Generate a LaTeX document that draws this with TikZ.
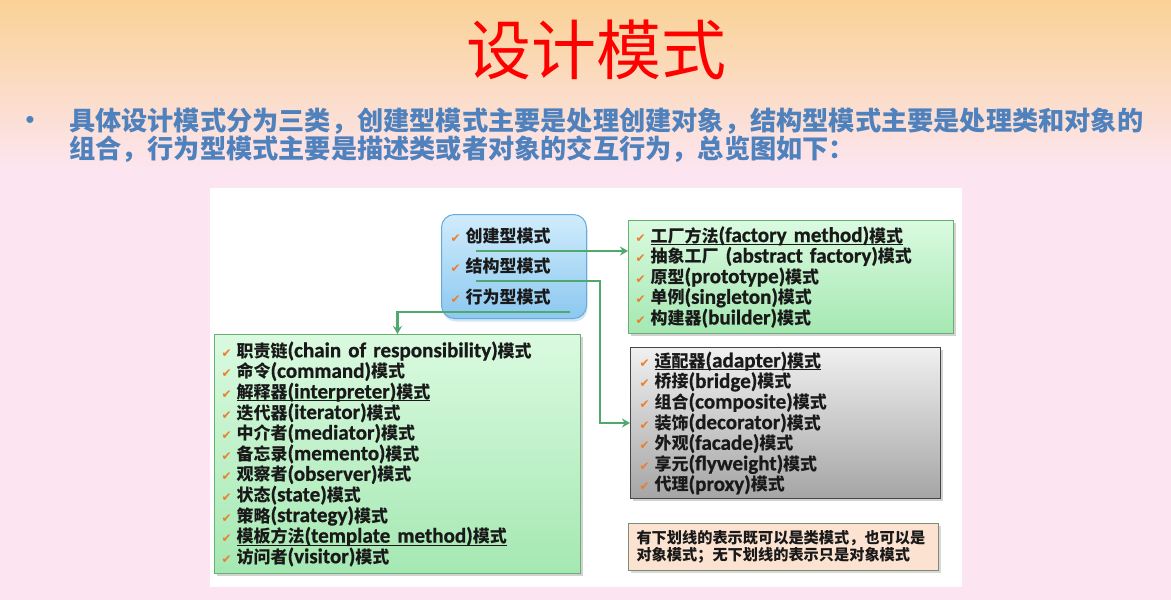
\documentclass[tikz,border=0pt]{standalone}
\usepackage{fontspec}
\setmainfont{Carlito}[Scale=1.24, BoldFont={Carlito Bold}, BoldFeatures={FakeBold=0.8}]
\newfontfamily\cjk{Noto Sans CJK SC}
\newfontfamily\dv{DejaVu Sans}
\usetikzlibrary{arrows.meta,shadows,calc}
\definecolor{bgtop}{RGB}{250,210,150}
\definecolor{bgpink}{RGB}{252,229,240}
\definecolor{titlered}{RGB}{255,0,0}
\definecolor{subblue}{RGB}{79,129,189}
\definecolor{chk}{RGB}{236,125,45}
\definecolor{lnk}{RGB}{80,168,108}
\definecolor{catA}{RGB}{208,236,252}
\definecolor{catB}{RGB}{140,200,240}
\definecolor{catD}{RGB}{105,170,220}
\definecolor{grA}{RGB}{218,250,224}
\definecolor{grB}{RGB}{165,232,178}
\definecolor{grD}{RGB}{105,175,115}
\definecolor{gyA}{RGB}{240,240,240}
\definecolor{gyB}{RGB}{165,165,165}
\definecolor{gyD}{RGB}{70,70,70}
\definecolor{ntF}{RGB}{252,226,208}
\definecolor{ntD}{RGB}{125,140,115}
\definecolor{txt}{RGB}{25,25,25}
\newcommand\ck{{\dv\fontsize{12}{12}\selectfont\color{chk}✔}\hspace{5pt}\bfseries}
\newcommand\zh[1]{{\cjk\bfseries #1}}
\newcommand\ul[1]{\setbox0\hbox{#1}\rlap{\rule[-3pt]{\wd0}{1pt}}\box0}
\tikzset{
  boxbase/.style={anchor=north west, align=left, inner ysep=0pt, text=txt,
    font=\bfseries\fontsize{17}{20.6}\selectfont, line width=1pt},
  greenbox/.style={boxbase, top color=grA, bottom color=grB, draw=grD,
    drop shadow={shadow xshift=2pt, shadow yshift=-2pt, opacity=.35}},
  graybox/.style={boxbase, top color=gyA, bottom color=gyB, draw=gyD,
    drop shadow={shadow xshift=2pt, shadow yshift=-2pt, opacity=.35}},
  link/.style={draw=lnk, line width=2.4pt, -{Stealth[length=8pt,width=9pt]}},
}
\begin{document}
\begin{tikzpicture}[x=1pt,y=-1pt]
\useasboundingbox (0,0) rectangle (1171,600);
% background
\node[anchor=north west, inner sep=0, minimum width=1171pt, minimum height=600pt, fill=bgpink] (bg) at (0,0) {};
\node[anchor=north west, inner sep=0, minimum width=1171pt, minimum height=170pt, top color=bgtop, bottom color=bgpink] (bgtopband) at (0,0) {};
\node[anchor=north west, inner sep=0, minimum width=752pt, minimum height=399pt, fill=white] (panel) at (210,188) {};
% title
\node[text=titlered, font=\cjk\fontsize{65}{65}\selectfont, inner sep=0] (title) at (596,50) {设计模式};
% bullet and intro
\node[text=subblue, font=\fontsize{16}{16}\selectfont, inner sep=0] (bullet) at (30,121) {•};
\node[anchor=west, text=subblue, font=\cjk\bfseries\fontsize{26.2}{26.2}\selectfont, inner sep=0] (intro1) at (69,121) {具体设计模式分为三类，创建型模式主要是处理创建对象，结构型模式主要是处理类和对象的};
\node[anchor=west, text=subblue, font=\cjk\bfseries\fontsize{26.2}{26.2}\selectfont, inner sep=0] (intro2) at (69,149) {组合，行为型模式主要是描述类或者对象的交互行为，总览图如下：};
% category box
\node[boxbase, rounded corners=13pt, top color=catA, bottom color=catB, draw=catD,
  drop shadow={shadow xshift=1pt, shadow yshift=-3pt, opacity=.3, fill=catD},
  minimum width=145pt, minimum height=104pt, text width=127pt, inner xsep=9pt,
  font=\bfseries\fontsize{17}{30.5}\selectfont] (cat) at (441,214)
  {\ck\zh{创建型模式}\\ \ck\zh{结构型模式}\\ \ck\zh{行为型模式}};
% creational
\node[greenbox, minimum width=325pt, minimum height=113pt, text width=311pt, inner xsep=7pt] (cre) at (628,220)
  {\ck\ul{\zh{工厂方法}(factory method)\zh{模式}}\\
   \ck\zh{抽象工厂} (abstract factory)\zh{模式}\\
   \ck\zh{原型}(prototype)\zh{模式}\\
   \ck\zh{单例}(singleton)\zh{模式}\\
   \ck\zh{构建器}(builder)\zh{模式}};
% behavioral
\node[greenbox, minimum width=366pt, minimum height=239pt, text width=352pt, inner xsep=7pt] (beh) at (214,334)
  {\ck\zh{职责链}(chain of responsibility)\zh{模式}\\
   \ck\zh{命令}(command)\zh{模式}\\
   \ck\ul{\zh{解释器}(interpreter)\zh{模式}}\\
   \ck\zh{迭代器}(iterator)\zh{模式}\\
   \ck\zh{中介者}(mediator)\zh{模式}\\
   \ck\zh{备忘录}(memento)\zh{模式}\\
   \ck\zh{观察者}(observer)\zh{模式}\\
   \ck\zh{状态}(state)\zh{模式}\\
   \ck\zh{策略}(strategy)\zh{模式}\\
   \ck\ul{\zh{模板方法}(template method)\zh{模式}}\\
   \ck\zh{访问者}(visitor)\zh{模式}};
% structural
\node[graybox, minimum width=310pt, minimum height=151pt, text width=292pt, inner xsep=9pt] (str) at (630,347)
  {\ck\ul{\zh{适配器}(adapter)\zh{模式}}\\
   \ck\zh{桥接}(bridge)\zh{模式}\\
   \ck\zh{组合}(composite)\zh{模式}\\
   \ck\zh{装饰}(decorator)\zh{模式}\\
   \ck\zh{外观}(facade)\zh{模式}\\
   \ck\zh{享元}(flyweight)\zh{模式}\\
   \ck\zh{代理}(proxy)\zh{模式}};
% note
\node[boxbase, fill=ntF, draw=ntD, minimum width=310pt, minimum height=47pt, text width=294pt, inner xsep=8pt,
  drop shadow={shadow xshift=2pt, shadow yshift=-2pt, opacity=.3},
  font=\cjk\bfseries\fontsize{15.2}{17.5}\selectfont] (note) at (628,523)
  {有下划线的表示既可以是类模式，也可以是\\对象模式；无下划线的表示只是对象模式};
% connectors
\coordinate (s1) at (476,251);
\coordinate (s2) at (476,281);
\coordinate (k2) at (600,281);
\coordinate (s3) at (570,312);
\draw[link] (s1) -- (s1 -| cre.west);
\draw[link] (s2) -- (k2) |- (str.west);
\draw[link] (s3) -| (beh.north);
\end{tikzpicture}
\end{document}
